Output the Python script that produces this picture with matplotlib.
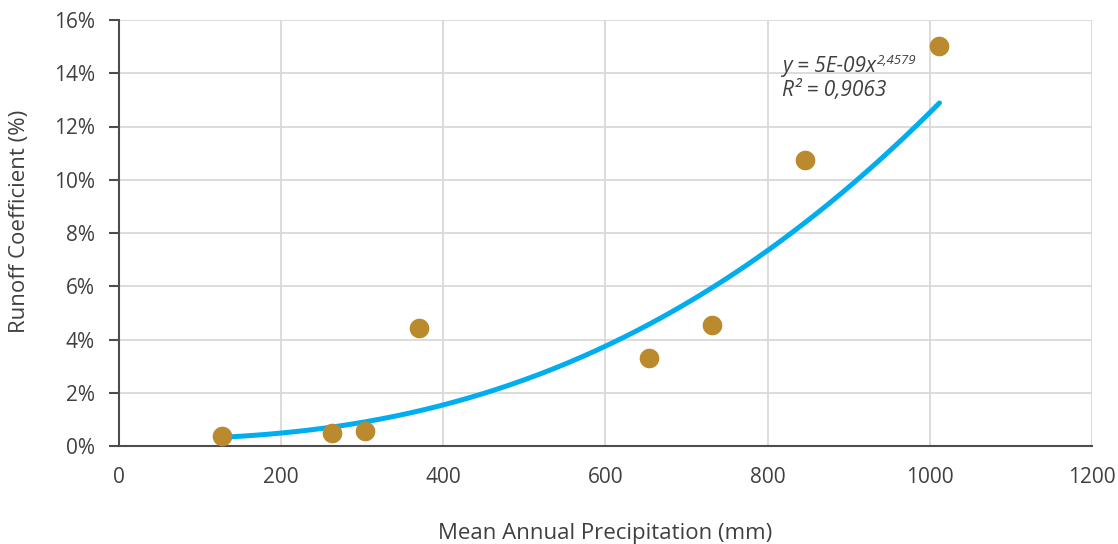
import matplotlib
matplotlib.use("Agg")
import matplotlib.pyplot as plt
import numpy as np

plt.rcParams['font.family'] = ['Open Sans', 'DejaVu Sans']

# Data
precip_mm = [127.5, 263, 304, 370, 654, 731, 846, 1012]
runoff_pct = [0.38, 0.49, 0.55, 4.44, 3.31, 4.55, 10.75, 15.04]

# Trend line parameters (power law, percent)
trend_coef = 5.19e-7
trend_exp = 2.4579
trend_offset = 0.25
trend_xmin, trend_xmax = 127.5, 1012

x_ticks = [0, 200, 400, 600, 800, 1000, 1200]
y_ticks = [0, 2, 4, 6, 8, 10, 12, 14, 16]
y_tick_labels = [f"{v}%" for v in y_ticks]

eq_text = "y = 5E-09x"
eq_sup = "2,4579"
r2_text = "R² = 0,9063"

text_color = "#404040"
W, H = 1118, 544
fig = plt.figure(figsize=(W / 100, H / 100), dpi=100)
ax = fig.add_axes([118.5 / W, 1 - 446 / H, (1092 - 118.5) / W, (446 - 20) / H])

xs = np.linspace(trend_xmin, trend_xmax, 300)
ys = trend_offset + trend_coef * xs ** trend_exp
ax.plot(xs, ys, color="#00AEEF", lw=3.6, zorder=3, solid_capstyle='round')
ax.scatter(precip_mm, runoff_pct, s=200, color="#BB8A2E", zorder=4, linewidths=0)

ax.set_xlim(0, 1200)
ax.set_ylim(0, 16)
ax.set_xticks(x_ticks)
ax.set_xticklabels([str(v) for v in x_ticks])
ax.set_yticks(y_ticks)
ax.set_yticklabels(y_tick_labels)
ax.grid(True, color="#D9D9D9", lw=1.3)
ax.set_axisbelow(True)
for s in ['top', 'right']:
    ax.spines[s].set_visible(False)
for s in ['left', 'bottom']:
    ax.spines[s].set_color("#4D4D4D")
    ax.spines[s].set_linewidth(1.5)
ax.tick_params(axis='x', length=0, pad=15, labelsize=15, colors=text_color)
ax.tick_params(axis='y', length=7, width=1.5, color="#4D4D4D", pad=10, labelsize=15, labelcolor=text_color)

fig.text(605 / W, 1 - 533 / H, "Mean Annual Precipitation (mm)", fontsize=16,
         color=text_color, ha='center', va='center')
fig.text(20 / W, 1 - 221 / H, "Runoff Coefficient (%)", fontsize=16,
         color=text_color, ha='center', va='center', rotation=90)

t1 = ax.text(818, 14.06, eq_text, fontsize=15, style='italic', color=text_color, va='baseline')
ax.text(818, 13.16, r2_text, fontsize=15, style='italic', color=text_color, va='baseline')
fig.canvas.draw()
bb = t1.get_window_extent()
inv = ax.transData.inverted()
xr, _ = inv.transform((bb.x1, bb.y0))
_, ysup = inv.transform((bb.x1, bb.y0 + 0.62 * bb.height))
ax.text(xr + 1, ysup, eq_sup, fontsize=9.5, style='italic', color=text_color, va='baseline')

fig.savefig("out.png", dpi=100)
